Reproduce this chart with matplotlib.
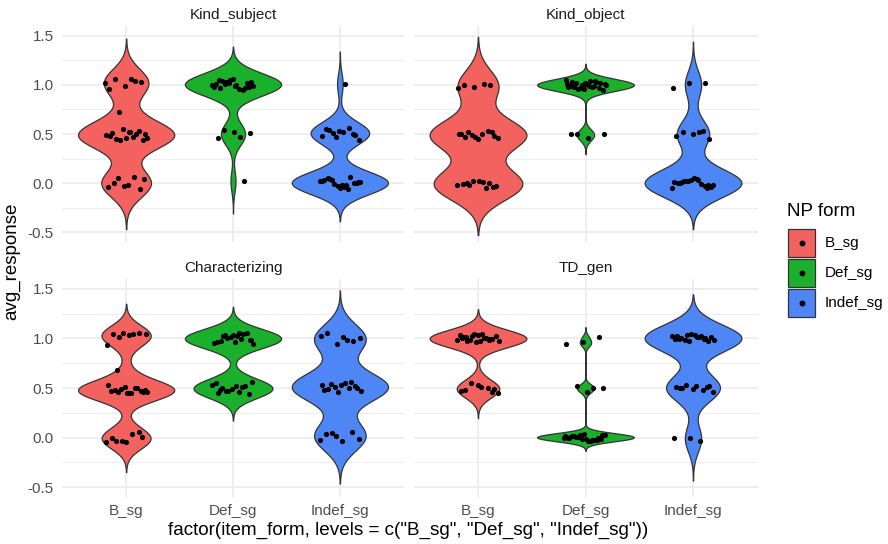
import numpy as np
import matplotlib
matplotlib.use("Agg")
import matplotlib.pyplot as plt
from matplotlib.patches import Rectangle

plt.rcParams['font.family'] = ['Liberation Sans', 'DejaVu Sans']

# facets, groups, colours
panels = ["Kind_subject", "Kind_object", "Characterizing", "TD_gen"]
forms = ["B_sg", "Def_sg", "Indef_sg"]
colors = ["#F3625E", "#1BB02B", "#4E86F6"]

# avg_response of each point
kind_subject_b = [1.02, 1.06, 1.06, 1.03, 0.99, 0.96, 1.04, 0.72,
                  0.50, 0.52, 0.51, 0.53, 0.55, 0.49, 0.47, 0.45, 0.44, 0.46, 0.48, 0.50, 0.44, 0.46, 0.52,
                  0.00, -0.06, -0.03, -0.04, 0.06, 0.05, 0.04, -0.02]
kind_subject_def = [1.01, 1.03, 0.99, 1.05, 0.97, 1.02, 1.00, 0.96, 1.04, 0.98,
                    1.06, 1.01, 0.95, 1.03, 0.99, 1.00, 0.97, 1.02, 1.05, 0.98,
                    0.47, 0.54, 0.51, 0.52, 0.46, 0.02]
kind_subject_indef = [1.01, 0.54, 0.49, 0.53, 0.48, 0.56, 0.51, 0.44, 0.52, 0.55, 0.50, 0.47,
                      0.02, -0.02, 0.04, 0.00, -0.05, 0.03, 0.06, -0.01, 0.01,
                      -0.04, 0.05, 0.00, -0.03, 0.02, -0.06, 0.03, 0.01, -0.02]

kind_object_b = [1.00, 1.00, 0.98, 0.97, 1.01,
                 0.52, 0.48, 0.45, 0.50, 0.53, 0.49, 0.46, 0.50, 0.47, 0.52, 0.47, 0.50,
                 -0.05, -0.02, -0.03, 0.02, -0.01, 0.00, 0.02, -0.02, 0.01, 0.00, -0.04]
kind_object_def = [1.02, 0.98, 1.04, 0.96, 1.01, 0.99, 1.03, 0.97, 1.00, 1.05, 0.98, 1.02,
                   0.95, 1.01, 0.99, 1.03, 0.97, 1.00, 1.04, 0.98, 1.02, 0.96, 1.01, 0.99,
                   0.50, 0.50, 0.46, 0.50]
kind_object_indef = [1.02, 1.02, 0.97, 0.52, 0.52, 0.45, 0.50, 0.48, 0.53,
                     0.02, -0.02, 0.04, 0.00, -0.05, 0.03, 0.01, -0.01, 0.02,
                     -0.04, 0.05, 0.00, -0.03, 0.02, -0.05, 0.03, 0.01, -0.02]

char_b = [1.01, 1.04, 1.03, 1.04, 1.05, 1.05, 0.93, 1.04, 0.68,
          0.46, 0.45, 0.47, 0.50, 0.49, 0.46, 0.45, 0.48, 0.47, 0.51, 0.53, 0.50, 0.46, 0.48, 0.45,
          0.00, 0.06, -0.03, -0.05, 0.04, -0.03, 0.01, -0.04]
char_def = [1.05, 1.02, 0.98, 1.03, 0.96, 1.04, 1.00, 0.94, 1.02, 0.97, 1.05, 1.01, 0.95,
            0.99, 1.03, 0.98, 0.96,
            0.45, 0.52, 0.47, 0.53, 0.46, 0.50, 0.44, 0.49, 0.55, 0.51, 0.47, 0.56, 0.52, 0.48]
char_indef = [1.00, 1.01, 1.05, 0.97, 0.94, 1.02, 0.98,
              0.54, 0.50, 0.53, 0.48, 0.56, 0.51, 0.47, 0.55, 0.49, 0.52, 0.46, 0.53, 0.50,
              0.05, -0.01, -0.03, 0.04, 0.06, 0.02, -0.02]

td_b = [1.03, 1.00, 0.98, 1.02, 0.97, 1.04, 1.01, 0.99, 0.96, 1.03, 1.00, 0.98, 1.02,
        0.97, 1.01, 0.99, 1.04, 0.98, 1.00, 0.97,
        0.49, 0.53, 0.47, 0.50, 0.55, 0.45, 0.51, 0.48, 0.46]
td_def = [1.01, 0.96, 0.94, 0.50, 0.52, 0.50, 0.46,
          0.01, -0.02, 0.03, 0.00, -0.03, 0.02, -0.01, 0.04, 0.00, -0.02, 0.01,
          0.03, -0.03, 0.02, 0.00, -0.01, 0.02, -0.02, 0.01, 0.03, -0.01, 0.00]
td_indef = [1.02, 0.99, 1.03, 0.98, 1.01, 1.00, 0.97, 1.04, 0.99, 1.02, 0.98, 1.01,
            1.03, 0.99, 1.00, 0.97, 1.02, 1.01,
            0.50, 0.52, 0.49, 0.51, 0.48, 0.53, 0.46, 0.52, 0.50, 0.51,
            0.00, 0.00, -0.03]

responses = {
    "Kind_subject": [kind_subject_b, kind_subject_def, kind_subject_indef],
    "Kind_object": [kind_object_b, kind_object_def, kind_object_indef],
    "Characterizing": [char_b, char_def, char_indef],
    "TD_gen": [td_b, td_def, td_indef],
}

# kernel bandwidth of each violin
bandwidths = {
    "Kind_subject": [0.137, 0.11, 0.11],
    "Kind_object": [0.16, 0.055, 0.14],
    "Characterizing": [0.10, 0.09, 0.145],
    "TD_gen": [0.085, 0.035, 0.135],
}

W, H = 888, 544
fig = plt.figure(figsize=(W / 100, H / 100), dpi=100)

# panel boxes in pixels: left, top, right, bottom
boxes = [(62, 26, 404, 242), (413.5, 26, 757.5, 242),
         (62, 279, 404, 497), (413.5, 279, 757.5, 497)]

grid_col = "#EBEBEB"
text_col = "#4D4D4D"


def kde(vals, bw, grid):
    vals = np.asarray(vals)
    z = (grid[:, None] - vals[None, :]) / bw
    return np.exp(-0.5 * z ** 2).sum(axis=1) / (len(vals) * bw * np.sqrt(2 * np.pi))


for k, name in enumerate(panels):
    l, t, r, b = boxes[k]
    ax = fig.add_axes([l / W, 1 - b / H, (r - l) / W, (b - t) / H])
    ax.set_xlim(0.4, 3.6)
    ax.set_ylim(-0.6, 1.6)
    ax.set_xticks([1, 2, 3])
    ax.set_yticks([-0.5, 0.0, 0.5, 1.0, 1.5])
    ax.set_yticks([-0.25, 0.25, 0.75, 1.25], minor=True)
    ax.grid(which="major", color=grid_col, lw=1.2)
    ax.grid(which="minor", axis="y", color=grid_col, lw=0.6)
    ax.set_axisbelow(True)
    for s in ax.spines.values():
        s.set_visible(False)
    ax.tick_params(which="both", length=0, labelsize=11, labelcolor=text_col)
    ax.tick_params(axis="y", pad=6)
    ax.tick_params(axis="x", pad=5)
    if k < 2:
        ax.set_xticklabels([])
    else:
        ax.set_xticklabels(forms)
    if k % 2 == 1:
        ax.set_yticklabels([])
    else:
        ax.set_yticklabels(["-0.5", "0.0", "0.5", "1.0", "1.5"])
    ax.set_title(name, fontsize=11, color="#1A1A1A", pad=5)

    for j, vals in enumerate(responses[name]):
        bw = bandwidths[name][j]
        x0 = j + 1
        grid = np.linspace(min(vals) - 3 * bw, max(vals) + 3 * bw, 512)
        d = kde(vals, bw, grid)
        hw = 0.45 * d / d.max()
        ax.fill_betweenx(grid, x0 - hw, x0 + hw, facecolor=colors[j],
                         edgecolor="#333333", lw=0.9, zorder=2)
        n = len(vals)
        off = ((np.arange(n) * 0.618034 + 0.31 * j + 0.17 * k) % 1.0 - 0.5) * 0.4
        ax.scatter(x0 + off, vals, s=14, color="black", lw=0, zorder=3)

fig.text(12 / W, 1 - 261 / H, "avg_response", rotation=90, ha="center",
         va="center", fontsize=13.5)
fig.text(408 / W, 1 - 530 / H,
         'factor(item_form, levels = c("B_sg", "Def_sg", "Indef_sg"))',
         ha="center", va="center", fontsize=13.6)

# legend
fig.text(787 / W, 1 - 212 / H, "NP form", ha="left", va="center", fontsize=13.5)
key_tops = [229, 259, 289]
for j, form in enumerate(forms):
    kt = key_tops[j]
    fig.add_artist(Rectangle((788 / W, 1 - (kt + 28) / H), 27 / W, 28 / H,
                             transform=fig.transFigure, facecolor=colors[j],
                             edgecolor="#333333", lw=0.9))
    fig.add_artist(plt.Line2D([801.5 / W], [1 - (kt + 14) / H], marker="o",
                              ms=3.2, color="black", lw=0,
                              transform=fig.transFigure))
    fig.text(825 / W, 1 - (kt + 14) / H, form, ha="left", va="center",
             fontsize=11)

fig.savefig("out.png", dpi=100)
